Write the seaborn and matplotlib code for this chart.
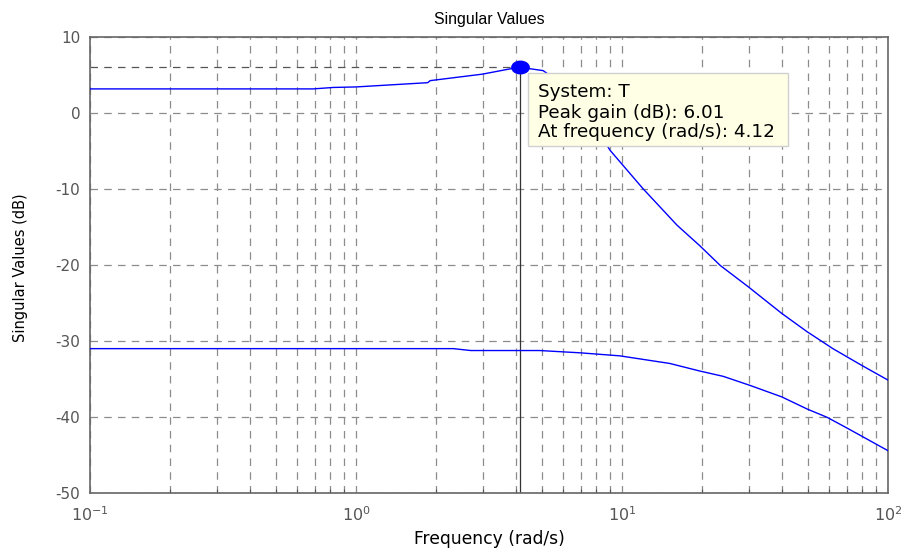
import numpy as np
import pandas as pd
import matplotlib
matplotlib.use("Agg")
import matplotlib.pyplot as plt
import seaborn as sns
from matplotlib.ticker import LogLocator, NullFormatter, MultipleLocator
from matplotlib.path import Path
from matplotlib.transforms import Affine2D
from matplotlib.patches import Rectangle

# ---- data ----
freq_upper = [0.1, 0.69, 0.82, 1.0, 1.86, 1.9, 2.98, 3.89, 4.12, 5.05, 6.0, 7.0, 8.0,
              9.0, 12.0, 16.1, 19.6, 23.4, 29.8, 39.8, 49.5, 62.0, 80.0, 100.0]
sv_upper = [3.16, 3.16, 3.35, 3.42, 3.98, 4.25, 5.1, 5.87, 6.01, 5.57, 3.7, 1.1, -1.9,
            -4.9, -10.0, -14.8, -17.5, -20.1, -22.9, -26.4, -28.8, -31.05, -33.3, -35.2]
freq_lower = [0.1, 2.32, 2.7, 4.9, 5.5, 6.95, 9.8, 15.1, 19.6, 24.0, 30.3, 39.8,
              49.6, 59.0, 70.0, 100.0]
sv_lower = [-31.05, -31.05, -31.3, -31.3, -31.4, -31.6, -32.0, -33.0, -34.0, -34.7,
            -35.9, -37.4, -39.0, -40.1, -41.5, -44.5]
peak_freq = 4.12
peak_gain = 6.01
title = "Singular Values"
xlabel = "Frequency (rad/s)"
ylabel = "Singular Values (dB)"
tip_lines = ["System: T", "Peak gain (dB): 6.01", "At frequency (rad/s): 4.12"]

sns.set_theme(style="white")
plt.rcParams['font.family'] = ['DejaVu Sans']
plt.rcParams['mathtext.fontset'] = 'dejavusans'
plt.rcParams['axes.unicode_minus'] = False

fig = plt.figure(figsize=(9.08, 5.56), dpi=100)
ax = fig.add_axes([0.0991, 0.1142, 0.879, 0.8193])

df_u = pd.DataFrame({"f": freq_upper, "sv": sv_upper})
df_l = pd.DataFrame({"f": freq_lower, "sv": sv_lower})
sns.lineplot(data=df_u, x="f", y="sv", ax=ax, color="#0000ff", linewidth=1.0, zorder=3)
sns.lineplot(data=df_l, x="f", y="sv", ax=ax, color="#0000ff", linewidth=1.0, zorder=3)

ax.set_xscale("log")
ax.set_xlim(0.1, 100)
ax.set_ylim(-50, 10)
ax.yaxis.set_major_locator(MultipleLocator(10))
ax.xaxis.set_major_locator(LogLocator(base=10, numticks=10))
ax.xaxis.set_minor_locator(LogLocator(base=10, subs=np.arange(2, 10), numticks=20))
ax.xaxis.set_minor_formatter(NullFormatter())

grid_kw = dict(color="#8c8c8c", linestyle=(0, (6, 5)), linewidth=0.9)
ax.grid(True, which="major", axis="both", **grid_kw)
ax.grid(True, which="minor", axis="x", **grid_kw)

ax.tick_params(axis="both", which="both", direction="in", colors="#555555",
               labelcolor="#555555")
ax.tick_params(axis="y", labelsize=11, pad=7)
ax.tick_params(axis="x", labelsize=11.5, pad=9)
ax.tick_params(axis="both", which="major", length=5, width=0.8)
ax.tick_params(axis="x", which="minor", length=3, width=0.8, bottom=True)
for s in ax.spines.values():
    s.set_color("#666666")
    s.set_linewidth(1.2)
    s.set_visible(True)

# peak markers
ax.plot([0.1, peak_freq], [peak_gain, peak_gain], color="#555555",
        linestyle=(0, (6, 5)), linewidth=0.9, zorder=2)
ax.plot([peak_freq, peak_freq], [-50, peak_gain], color="#333333",
        linestyle="-", linewidth=0.9, zorder=2)
ellipse = Path.unit_circle().transformed(Affine2D().scale(1.0, 0.72))
ax.plot([peak_freq], [peak_gain], marker=ellipse, markersize=12.5, color="#0000ff",
        markeredgecolor="#0000ff", zorder=5)

# data tip box
ax.add_patch(Rectangle((0.549, 0.761), 0.326, 0.160, transform=ax.transAxes,
                       facecolor="#ffffe6", edgecolor="#d0d0d0", linewidth=1.0,
                       zorder=6))
for line, yb in zip(tip_lines, [0.869, 0.823, 0.780]):
    ax.text(0.561, yb, line, transform=ax.transAxes, fontsize=13.2,
            color="black", va="baseline", ha="left", zorder=7)

ax.set_title(title, fontsize=11.4, color="black", pad=9,
             fontfamily=['Liberation Sans', 'DejaVu Sans'])
ax.set_xlabel(xlabel, fontsize=12.3, color="black")
ax.xaxis.set_label_coords(0.5, -0.083)
ax.set_ylabel(ylabel, fontsize=10.5, color="black")
ax.yaxis.set_label_coords(-0.078, 0.494)

fig.savefig("out.png", dpi=100)
